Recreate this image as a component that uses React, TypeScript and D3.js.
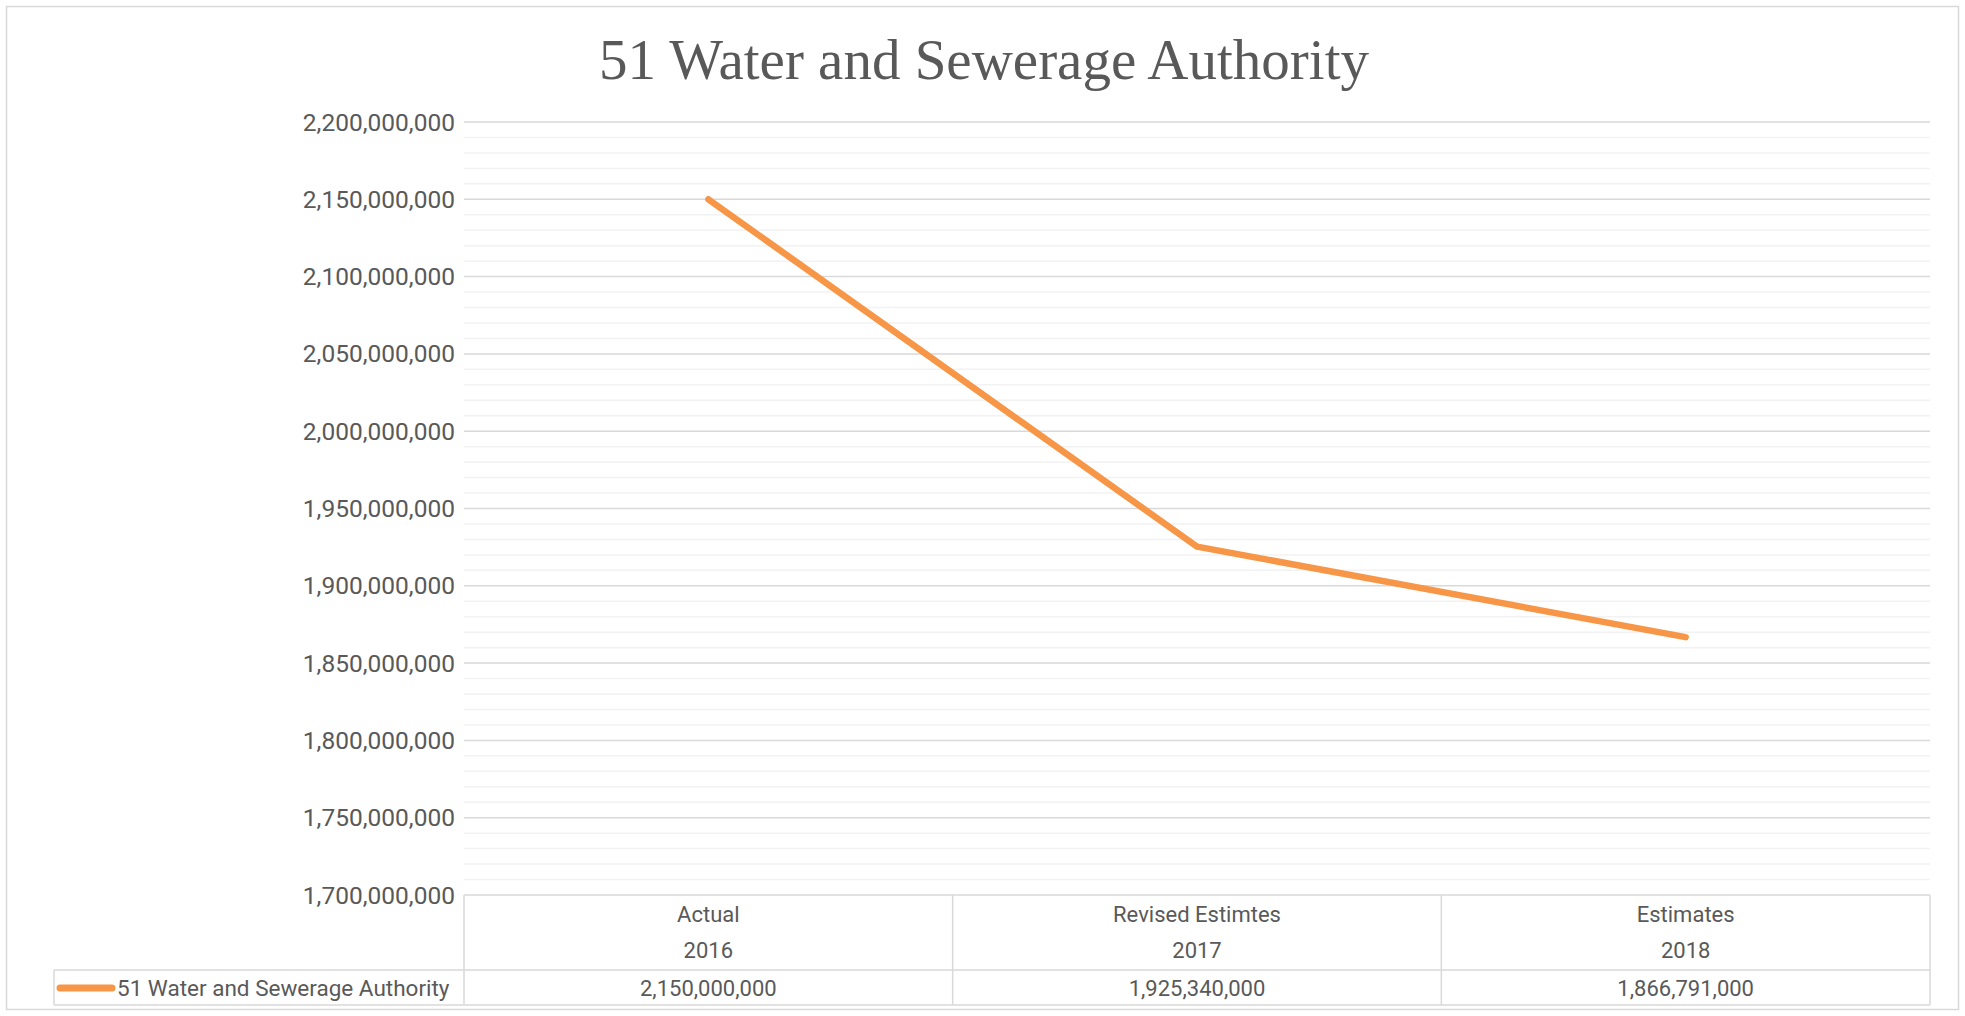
import React, { useEffect, useRef } from 'react';
import * as d3 from 'd3';

const title = "51 Water and Sewerage Authority";
const seriesName = "51 Water and Sewerage Authority";
const categories = ["Actual", "Revised Estimtes", "Estimates"];
const years = ["2016", "2017", "2018"];
const values = [2150000000, 1925340000, 1866791000];
const yTicks = [1700000000, 1750000000, 1800000000, 1850000000, 1900000000, 1950000000, 2000000000, 2050000000, 2100000000, 2150000000, 2200000000];

const WIDTH = 1965;
const HEIGHT = 1016;
const TEXT = "#595959";
const GRID = "#d9d9d9";
const MINOR = "#f2f2f2";
const ORANGE = "#F79646";
const FONT = "Roboto, 'Open Sans', sans-serif";

if (typeof document !== 'undefined') document.body.style.margin = '0';

const App: React.FC = () => {
  const svgRef = useRef<SVGSVGElement>(null);

  useEffect(() => {
    if (!svgRef.current) return;
    const svg = d3.select(svgRef.current);
    svg.selectAll("*").remove();

    const left = 464, right = 1930, top = 122, bottom = 895;
    const headerBottom = 970, tableBottom = 1005, legendLeft = 54;

    // chart frame
    svg.append("rect")
      .attr("x", 6.5).attr("y", 6.5)
      .attr("width", WIDTH - 13).attr("height", HEIGHT - 13)
      .attr("fill", "#fff").attr("stroke", GRID).attr("stroke-width", 1.5);

    svg.append("text")
      .attr("x", 984).attr("y", 79)
      .attr("text-anchor", "middle")
      .attr("fill", TEXT)
      .style("font-family", "'Liberation Serif', 'DejaVu Serif', serif")
      .style("font-size", "57px")
      .text(title);

    const x = d3.scaleBand<string>().domain(categories).range([left, right]);
    const y = d3.scaleLinear().domain([1700000000, 2200000000]).range([bottom, top]);

    // minor gridlines every 10M
    const minor = d3.range(1700000000, 2200000001, 10000000).filter(v => v % 50000000 !== 0);
    svg.append("g").selectAll("line").data(minor).enter().append("line")
      .attr("x1", left).attr("x2", right)
      .attr("y1", d => y(d)).attr("y2", d => y(d))
      .attr("stroke", MINOR).attr("stroke-width", 1.5);

    svg.append("g").selectAll("line").data(yTicks.slice(1)).enter().append("line")
      .attr("x1", left).attr("x2", right)
      .attr("y1", d => y(d)).attr("y2", d => y(d))
      .attr("stroke", GRID).attr("stroke-width", 1.5);

    // y labels
    const fmt = d3.format(",");
    svg.append("g").selectAll("text").data(yTicks).enter().append("text")
      .attr("x", left - 9).attr("y", d => y(d))
      .attr("dy", "0.35em")
      .attr("text-anchor", "end")
      .attr("fill", TEXT)
      .style("font-family", FONT)
      .style("font-size", "24.5px")
      .text(d => fmt(d));

    // data table
    const tg = svg.append("g").attr("stroke", GRID).attr("stroke-width", 1.5).attr("fill", "none");
    tg.append("line").attr("x1", left).attr("x2", right).attr("y1", bottom).attr("y2", bottom);
    tg.append("line").attr("x1", legendLeft).attr("x2", right).attr("y1", headerBottom).attr("y2", headerBottom);
    tg.append("line").attr("x1", legendLeft).attr("x2", right).attr("y1", tableBottom).attr("y2", tableBottom);
    tg.append("line").attr("x1", legendLeft).attr("x2", legendLeft).attr("y1", headerBottom).attr("y2", tableBottom);
    const seps = [...categories.map(c => x(c)!), right];
    tg.selectAll("line.sep").data(seps).enter().append("line")
      .attr("class", "sep")
      .attr("x1", d => d).attr("x2", d => d)
      .attr("y1", bottom).attr("y2", tableBottom);

    const cells = svg.append("g")
      .attr("fill", TEXT)
      .style("font-family", FONT)
      .style("font-size", "22px")
      .attr("text-anchor", "middle");
    categories.forEach((c, i) => {
      const cx = x(c)! + x.bandwidth() / 2;
      cells.append("text").attr("x", cx).attr("y", 914).attr("dy", "0.35em").text(c);
      cells.append("text").attr("x", cx).attr("y", 950).attr("dy", "0.35em").text(years[i]);
      cells.append("text").attr("x", cx).attr("y", 988).attr("dy", "0.35em").text(fmt(values[i]));
    });

    // legend key
    svg.append("line")
      .attr("x1", 60).attr("x2", 112).attr("y1", 988).attr("y2", 988)
      .attr("stroke", ORANGE).attr("stroke-width", 7).attr("stroke-linecap", "round");
    svg.append("text")
      .attr("x", 117).attr("y", 988).attr("dy", "0.35em")
      .attr("fill", TEXT)
      .style("font-family", FONT)
      .style("font-size", "22.5px")
      .text(seriesName);

    // series line
    const line = d3.line<number>()
      .x((_, i) => x(categories[i])! + x.bandwidth() / 2)
      .y(d => y(d));
    svg.append("path")
      .datum(values)
      .attr("d", line)
      .attr("fill", "none")
      .attr("stroke", ORANGE)
      .attr("stroke-width", 6.5)
      .attr("stroke-linecap", "round")
      .attr("stroke-linejoin", "round");
  }, []);

  return <svg ref={svgRef} width={WIDTH} height={HEIGHT} style={{ display: 'block' }} />;
};

export default App;
